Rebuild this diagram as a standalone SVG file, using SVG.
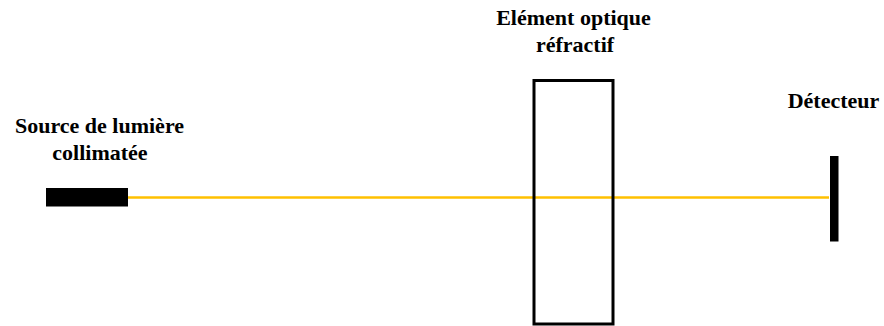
<svg xmlns="http://www.w3.org/2000/svg" width="884" height="326" viewBox="0 0 884 326">
<style>
.lbl{font-family:"Liberation Serif","Times New Roman",serif;font-weight:bold;font-size:22px;fill:#000;text-anchor:middle}
</style>
<rect width="884" height="326" fill="#fff"/>
<g id="connectors">
<line x1="128" y1="197.5" x2="829" y2="197.5" stroke="#FFC000" stroke-width="2.5"/>
</g>
<g id="source">
<rect x="46" y="188" width="82" height="18.5" fill="#000"/>
<text class="lbl" x="99.5" y="133">Source de lumière</text>
<text class="lbl" x="100" y="160">collimatée</text>
</g>
<g id="element">
<rect x="534" y="80.5" width="79" height="243.5" fill="none" stroke="#000" stroke-width="3"/>
<text class="lbl" x="573.5" y="25">Elément optique</text>
<text class="lbl" x="575" y="52">réfractif</text>
</g>
<g id="detecteur">
<rect x="830" y="156" width="8.5" height="85.5" fill="#000"/>
<text class="lbl" x="833.5" y="108">Détecteur</text>
</g>
</svg>
